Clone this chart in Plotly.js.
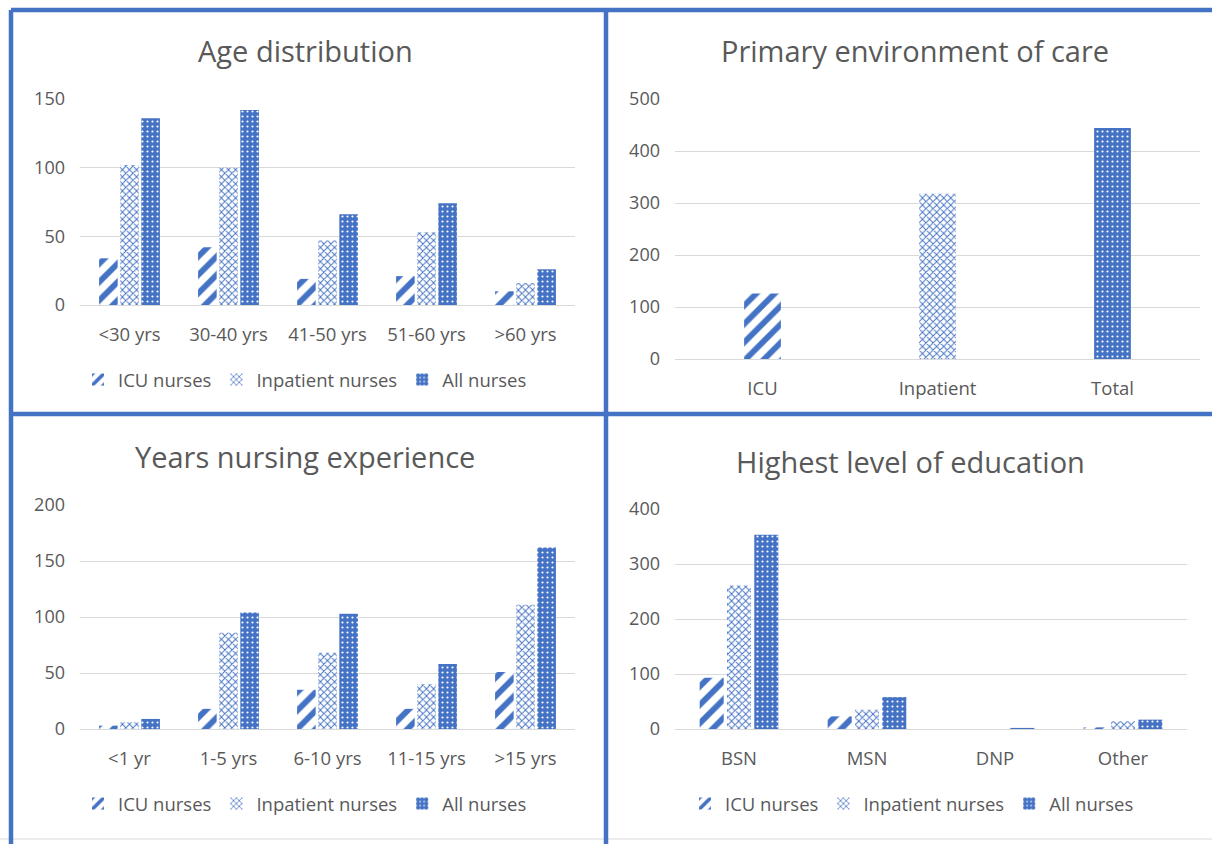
<!DOCTYPE html>
<html>
<head>
<meta charset="utf-8">
<script src="https://cdn.plot.ly/plotly-3.0.1.min.js"></script>
<style>html,body{margin:0;padding:0;background:#fff;}#chart{width:1212px;height:844px;}</style>
</head>
<body>
<div id="chart"></div>
<script>
// ---- Data ----
const seriesNames = ['ICU nurses', 'Inpatient nurses', 'All nurses'];

const ageCats = ['<30 yrs', '30-40 yrs', '41-50 yrs', '51-60 yrs', '>60 yrs'];
const ageICU = [34, 42, 19, 21, 10];
const ageInpatient = [102, 100, 47, 53, 16];
const ageAll = [136, 142, 66, 74, 26];

const envCats = ['ICU', 'Inpatient', 'Total'];
const envValues = [126, 318, 444];

const expCats = ['<1 yr', '1-5 yrs', '6-10 yrs', '11-15 yrs', '>15 yrs'];
const expICU = [3, 18, 35, 18, 51];
const expInpatient = [6, 86, 68, 40, 111];
const expAll = [9, 104, 103, 58, 162];

const eduCats = ['BSN', 'MSN', 'DNP', 'Other'];
const eduICU = [93, 23, 0, 3];
const eduInpatient = [261, 35, 0, 14];
const eduAll = [353, 58, 2, 17];

const panelTitles = ['Age distribution', 'Primary environment of care', 'Years nursing experience', 'Highest level of education'];

// ---- Styling ----
const BLUE = '#4472C4';
const GREY = '#595959';
const FONT = 'Open Sans, Noto Sans, sans-serif';
const W = 1212, H = 844;
const px = v => v / W;
const py = v => 1 - v / H;

const patterns = [
  {shape: '/', fgcolor: BLUE, bgcolor: '#ffffff', size: 13, solidity: 0.45, fillmode: 'replace'},
  {shape: 'x', fgcolor: BLUE, bgcolor: '#ffffff', size: 5, solidity: 0.35, fillmode: 'replace'},
  {shape: '.', fgcolor: '#ffffff', bgcolor: BLUE, size: 5, solidity: 0.15, fillmode: 'replace'}
];

function groupTraces(cats, vals, xa, ya, legendId) {
  return vals.map((v, i) => ({
    type: 'bar', x: cats, y: v, name: seriesNames[i],
    xaxis: xa, yaxis: ya, legend: legendId,
    marker: {color: BLUE, line: {width: 0}, pattern: patterns[i]},
    hoverinfo: 'x+y+name'
  }));
}

const data = [
  ...groupTraces(ageCats, [ageICU, ageInpatient, ageAll], 'x', 'y', 'legend'),
  {
    type: 'bar', x: envCats, y: envValues, xaxis: 'x2', yaxis: 'y2', showlegend: false, width: 0.21,
    marker: {
      color: BLUE, line: {width: 0},
      pattern: {
        shape: patterns.map(p => p.shape),
        fgcolor: patterns.map(p => p.fgcolor),
        bgcolor: patterns.map(p => p.bgcolor),
        size: patterns.map(p => p.size),
        solidity: patterns.map(p => p.solidity),
        fillmode: 'replace'
      }
    }
  },
  ...groupTraces(expCats, [expICU, expInpatient, expAll], 'x3', 'y3', 'legend2'),
  ...groupTraces(eduCats, [eduICU, eduInpatient, eduAll], 'x4', 'y4', 'legend3')
];

function xAxis(domain, anchor) {
  return {
    domain: domain, anchor: anchor, type: 'category',
    showgrid: false, showline: false, zeroline: false, ticks: '',
    ticklabelstandoff: 16,
    tickfont: {family: FONT, size: 18.5, color: GREY}, fixedrange: true
  };
}
function yAxis(domain, anchor, range, dtick) {
  return {
    domain: domain, anchor: anchor, range: range, dtick: dtick,
    showgrid: true, gridcolor: '#d9d9d9', gridwidth: 1,
    zeroline: true, zerolinecolor: '#d9d9d9', zerolinewidth: 1,
    showline: false, ticks: '', ticklabelstandoff: 14,
    tickfont: {family: FONT, size: 18, color: GREY}, fixedrange: true
  };
}

const legendBase = {
  orientation: 'h', xanchor: 'center', yanchor: 'middle',
  font: {family: FONT, size: 18.5, color: GREY}, bgcolor: 'rgba(0,0,0,0)',
  itemclick: false, itemdoubleclick: false, traceorder: 'normal', itemwidth: 30
};

const titlePos = [[305, 50, 0], [915, 50, 1], [305, 456, 2], [910, 461, 3]];
const annotations = titlePos.map(t => ({
  text: panelTitles[t[2]], x: px(t[0]), y: py(t[1]), xref: 'paper', yref: 'paper',
  xanchor: 'center', yanchor: 'middle', showarrow: false,
  font: {family: FONT, size: 29, color: GREY}
}));

function line(x0, y0, x1, y1, color, w) {
  return {type: 'line', xref: 'paper', yref: 'paper', x0: px(x0), y0: py(y0), x1: px(x1), y1: py(y1),
    line: {color: color, width: w}, layer: 'above'};
}
const shapes = [
  line(0, 839, 1212, 839, '#e6e6e6', 1.5),
  line(11, 10, 1212, 10, BLUE, 4.5),
  line(11, 10, 11, 844, BLUE, 4.5),
  line(606, 10, 606, 844, BLUE, 4.5),
  line(11, 414, 1212, 414, BLUE, 4.5)
];

const layout = {
  width: W, height: H, margin: {l: 0, r: 0, t: 0, b: 0},
  paper_bgcolor: '#ffffff', plot_bgcolor: 'rgba(0,0,0,0)',
  barmode: 'group', bargap: 0.36, bargroupgap: 0.12,
  font: {family: FONT, color: GREY},
  xaxis: xAxis([px(80), px(575)], 'y'),
  yaxis: yAxis([py(305), py(99)], 'x', [0, 150], 50),
  xaxis2: xAxis([px(675), px(1200)], 'y2'),
  yaxis2: yAxis([py(359), py(99)], 'x2', [0, 500], 100),
  xaxis3: xAxis([px(80), px(575)], 'y3'),
  yaxis3: yAxis([py(729), py(505)], 'x3', [0, 200], 50),
  xaxis4: xAxis([px(675), px(1187)], 'y4'),
  yaxis4: yAxis([py(729), py(509)], 'x4', [0, 400], 100),
  legend: Object.assign({}, legendBase, {x: px(305), y: py(380)}),
  legend2: Object.assign({}, legendBase, {x: px(305), y: py(804)}),
  legend3: Object.assign({}, legendBase, {x: px(912), y: py(804)}),
  annotations: annotations,
  shapes: shapes,
  showlegend: true
};

Plotly.newPlot('chart', data, layout, {displayModeBar: false, staticPlot: true});
</script>
</body>
</html>
